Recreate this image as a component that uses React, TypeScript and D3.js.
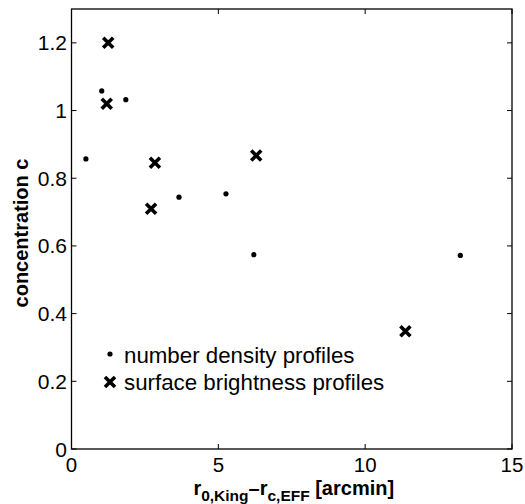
import React from "react";
import * as d3 from "d3";

const xTicks = [0, 5, 10, 15];
const yTicks = [0, 0.2, 0.4, 0.6, 0.8, 1, 1.2];
const yTickLabels = ["0", "0.2", "0.4", "0.6", "0.8", "1", "1.2"];

const numberDensityX = [0.49, 1.03, 1.85, 3.66, 5.26, 6.21, 13.24];
const numberDensityY = [0.857, 1.058, 1.032, 0.744, 0.754, 0.574, 0.572];

const surfaceBrightnessX = [1.25, 1.2, 2.84, 2.71, 6.29, 11.37];
const surfaceBrightnessY = [1.2, 1.02, 0.846, 0.71, 0.867, 0.348];

const legendLabels = ["number density profiles", "surface brightness profiles"];

const W = 525;
const H = 504;
const M = { left: 71.5, right: 512, top: 9, bottom: 449 };
const FONT = "'Liberation Sans', Arial, Helvetica, sans-serif";

export default function App() {
  const x = d3.scaleLinear().domain([0, 15]).range([M.left, M.right]);
  const y = d3.scaleLinear().domain([0, 1.3]).range([M.bottom, M.top]);
  const tl = 5;
  const cs = 5;
  const cross = (s: number) => `M${-s},${-s}L${s},${s}M${-s},${s}L${s},${-s}`;

  return (
    <svg width={W} height={H} style={{ position: "absolute", left: 0, top: 0, background: "#fff" }} fontFamily={FONT}>
      <rect x={0} y={0} width={W} height={H} fill="#fff" />
      {/* ticks */}
      {xTicks.map((t) => (
        <g key={"xt" + t}>
          <line x1={x(t)} x2={x(t)} y1={M.bottom} y2={M.bottom - tl} stroke="#000" strokeWidth={1} />
          <line x1={x(t)} x2={x(t)} y1={M.top} y2={M.top + tl} stroke="#000" strokeWidth={1} />
          <text x={x(t)} y={471.5} fontSize={20.5} textAnchor="middle">{t}</text>
        </g>
      ))}
      {yTicks.map((t, i) => (
        <g key={"yt" + t}>
          <line x1={M.left} x2={M.left + tl} y1={y(t)} y2={y(t)} stroke="#000" strokeWidth={1} />
          <line x1={M.right} x2={M.right - tl} y1={y(t)} y2={y(t)} stroke="#000" strokeWidth={1} />
          <text x={M.left - 4.5} y={y(t)} fontSize={21} textAnchor="end" dominantBaseline="central">{yTickLabels[i]}</text>
        </g>
      ))}
      <rect x={M.left} y={M.top} width={M.right - M.left} height={M.bottom - M.top} fill="none" stroke="#000" strokeWidth={1.3} />

      {/* number density dots */}
      {numberDensityX.map((v, i) => (
        <circle key={"nd" + i} cx={x(v)} cy={y(numberDensityY[i])} r={2.6} fill="#000" />
      ))}
      {/* surface brightness crosses */}
      {surfaceBrightnessX.map((v, i) => (
        <path key={"sb" + i} d={cross(cs)} transform={`translate(${x(v)},${y(surfaceBrightnessY[i])})`} stroke="#000" strokeWidth={3.6} fill="none" />
      ))}

      {/* legend */}
      <circle cx={110} cy={354} r={2.6} fill="#000" />
      <text x={124} y={355} fontSize={22.3} dominantBaseline="central">{legendLabels[0]}</text>
      <path d={cross(cs)} transform="translate(110,382)" stroke="#000" strokeWidth={3.6} fill="none" />
      <text x={124} y={382} fontSize={22.3} dominantBaseline="central">{legendLabels[1]}</text>

      {/* y label */}
      <text transform={`translate(21,${(M.top + M.bottom) / 2 + 4}) rotate(-90)`} fontSize={20} fontWeight="bold" textAnchor="middle" dominantBaseline="central">concentration c</text>

      {/* x label */}
      <text x={(M.left + M.right) / 2 + 2} y={495} fontSize={20} fontWeight="bold" textAnchor="middle">
        <tspan>r</tspan>
        <tspan fontSize={15.5} dy={6}>0,King</tspan>
        <tspan dy={-6}>–r</tspan>
        <tspan fontSize={15.5} dy={6}>c,EFF</tspan>
        <tspan dy={-6}> [arcmin]</tspan>
      </text>
    </svg>
  );
}
